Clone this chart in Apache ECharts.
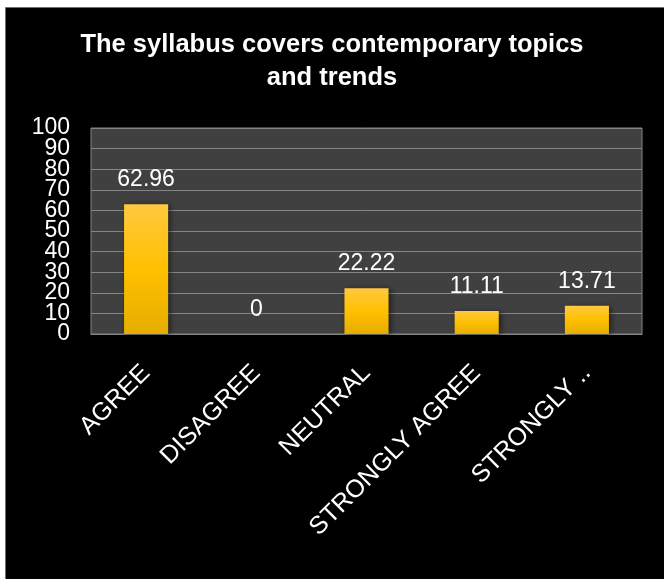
<!DOCTYPE html>
<html>
<head>
<meta charset="utf-8">
<script src="https://cdn.jsdelivr.net/npm/echarts@6/dist/echarts.min.js"></script>
<style>
  html, body { margin: 0; padding: 0; background: #ffffff; }
  #chart { width: 664px; height: 579px; }
</style>
</head>
<body>
<div id="chart"></div>
<script>
const titleText = 'The syllabus covers contemporary topics\nand trends';
const categories = ['AGREE', 'DISAGREE', 'NEUTRAL', 'STRONGLY AGREE', 'STRONGLY ..'];
const values = [62.96, 0, 22.22, 11.11, 13.71];
const yMin = 0, yMax = 100, yStep = 10;

const chart = echarts.init(document.getElementById('chart'), null, { renderer: 'canvas' });
const font = '"Liberation Sans", Arial, sans-serif';

const yLabelStyle = {
  margin: 21,
  color: '#ffffff',
  fontFamily: font,
  fontSize: 23
};

chart.setOption({
  backgroundColor: '#ffffff',
  animation: false,
  graphic: [{
    type: 'rect',
    z: -10,
    silent: true,
    shape: { x: 5.5, y: 7.5, width: 664, height: 580 },
    style: { fill: '#000000', stroke: '#6e6e6e', lineWidth: 1 }
  }],
  title: {
    text: titleText,
    left: 'center',
    top: 28,
    padding: 0,
    textStyle: {
      color: '#ffffff',
      fontFamily: font,
      fontSize: 25.5,
      fontWeight: 'bold',
      lineHeight: 33
    }
  },
  grid: {
    left: 91, right: 22, top: 128, bottom: 245,
    show: true,
    backgroundColor: '#404040',
    borderColor: '#858585',
    borderWidth: 1
  },
  xAxis: {
    type: 'category',
    data: categories,
    axisLine: { show: true, lineStyle: { color: '#858585', width: 1 } },
    axisTick: { show: false },
    axisLabel: {
      interval: 0,
      rotate: 45,
      margin: 35,
      color: '#ffffff',
      fontFamily: font,
      fontSize: 25
    }
  },
  yAxis: [{
    type: 'value',
    position: 'left',
    min: yMin, max: yMax, interval: yStep,
    axisLine: { show: false },
    axisTick: { show: false },
    splitLine: { show: true, lineStyle: { color: '#858585', width: 1 } },
    axisLabel: Object.assign({ showMinLabel: false, showMaxLabel: false }, yLabelStyle)
  }, {
    type: 'value',
    position: 'left',
    offset: 0,
    min: yMin, max: yMax, interval: yMax - yMin,
    axisLine: { show: false },
    axisTick: { show: false },
    splitLine: { show: false },
    axisLabel: Object.assign({ showMinLabel: true, showMaxLabel: true }, yLabelStyle)
  }],
  series: [{
    type: 'bar',
    yAxisIndex: 0,
    data: values,
    barWidth: '40%',
    itemStyle: {
      color: new echarts.graphic.LinearGradient(0, 0, 0, 1, [
        { offset: 0, color: '#ffc93f' },
        { offset: 0.5, color: '#ffc000' },
        { offset: 1, color: '#e6ad00' }
      ]),
      shadowColor: 'rgba(0,0,0,0.55)',
      shadowBlur: 6,
      shadowOffsetX: 2,
      shadowOffsetY: 1
    },
    label: {
      show: true,
      position: 'top',
      distance: 13,
      color: '#ffffff',
      fontFamily: font,
      fontSize: 23
    }
  }]
});
</script>
</body>
</html>
